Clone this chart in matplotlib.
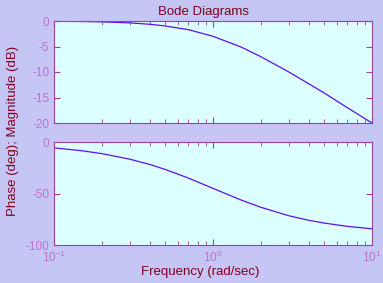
import matplotlib
matplotlib.use('Agg')
import matplotlib.pyplot as plt

# frequency response values
freq = [0.1, 0.15, 0.2, 0.3, 0.4, 0.5, 0.7, 1.0, 1.5, 2.0, 3.0, 4.0, 5.0, 7.0, 10.0]
mag_db = [-0.04, -0.1, -0.17, -0.37, -0.64, -0.97, -1.7, -3.0, -5.1, -7.0, -10.0, -12.3, -14.1, -17.0, -20.0]
phase_deg = [-5.7, -8.5, -11.3, -16.7, -21.8, -26.6, -35.0, -45.0, -56.3, -63.4, -71.6, -76.0, -78.7, -81.9, -84.3]

mag_ticks = [0, -5, -10, -15, -20]
phase_ticks = [0, -50, -100]

plt.rcParams['font.family'] = ['Liberation Sans', 'DejaVu Sans']
plt.rcParams['axes.unicode_minus'] = False

bg = '#c6c6f4'
ax_bg = '#dcffff'
spine_col = '#a040a0'
tick_col = '#c070d0'
label_col = '#800020'
line_col = '#6010f0'

fig = plt.figure(figsize=(3.83, 2.83), dpi=100, facecolor=bg)
W, H = 383, 283
ax1 = fig.add_axes([54 / W, 1 - 123 / H, 318 / W, 102 / H])
ax2 = fig.add_axes([54 / W, 1 - 245 / H, 318 / W, 103 / H])

for ax in (ax1, ax2):
    ax.set_facecolor(ax_bg)
    ax.set_xscale('log')
    ax.set_xlim(0.1, 10)
    for s in ax.spines.values():
        s.set_color(spine_col)
    ax.tick_params(which='both', direction='in', top=True, right=True,
                   colors=spine_col, labelcolor=tick_col, labelsize=8.5)
    ax.tick_params(which='major', length=4)
    ax.tick_params(which='minor', length=3)
    ax.tick_params(axis='x', pad=3.5)

ax1.plot(freq, mag_db, color=line_col, linewidth=0.9)
ax1.set_ylim(-20, 0)
ax1.set_yticks(mag_ticks)
ax1.tick_params(which='both', labelbottom=False)
ax1.text(0.47, 1.03, 'Bode Diagrams', transform=ax1.transAxes,
         color=label_col, fontsize=9.5, ha='center', va='bottom')

ax2.plot(freq, phase_deg, color=line_col, linewidth=0.9)
ax2.set_ylim(-100, 0)
ax2.set_yticks(phase_ticks)
ax2.text(0.46, -0.2, 'Frequency (rad/sec)', transform=ax2.transAxes,
         color=label_col, fontsize=9.5, ha='center', va='top')

fig.text(13 / W, 1 - 131 / H, 'Phase (deg); Magnitude (dB)', rotation=90,
         color=label_col, fontsize=9.5, ha='center', va='center')

plt.savefig('out.png', dpi=100, facecolor=bg)
plt.close()
